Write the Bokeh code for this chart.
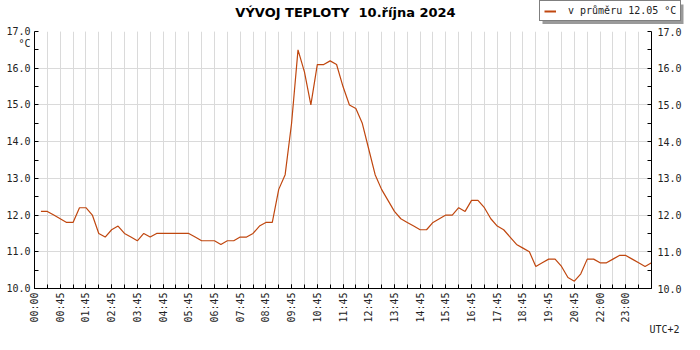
import math
from bokeh.plotting import figure
from bokeh.layouts import column
from bokeh.models import (Range1d, FixedTicker, LinearAxis, Label, Legend,
                          LegendItem, PrintfTickFormatter, Title)
from bokeh.embed import file_html
from bokeh.resources import INLINE

# ---------------- data ----------------
TITLE = "VÝVOJ TEPLOTY  10.října 2024"
MEAN_TEMP = "12.05"
UNIT = "°C"
TIMEZONE = "UTC+2"
# temperature every 15 minutes, from 00:15 to 24:00
temps = [
    12.1, 12.1, 12.0, 11.9, 11.8, 11.8, 12.2, 12.2,   # 00:15 - 02:00
    12.0, 11.5, 11.4, 11.6, 11.7, 11.5, 11.4, 11.3,   # 02:15 - 04:00
    11.5, 11.4, 11.5, 11.5, 11.5, 11.5, 11.5, 11.5,   # 04:15 - 06:00
    11.4, 11.3, 11.3, 11.3, 11.2, 11.3, 11.3, 11.4,   # 06:15 - 08:00
    11.4, 11.5, 11.7, 11.8, 11.8, 12.7, 13.1, 14.5,   # 08:15 - 10:00
    16.5, 15.9, 15.0, 16.1, 16.1, 16.2, 16.1, 15.5,   # 10:15 - 12:00
    15.0, 14.9, 14.5, 13.8, 13.1, 12.7, 12.4, 12.1,   # 12:15 - 14:00
    11.9, 11.8, 11.7, 11.6, 11.6, 11.8, 11.9, 12.0,   # 14:15 - 16:00
    12.0, 12.2, 12.1, 12.4, 12.4, 12.2, 11.9, 11.7,   # 16:15 - 18:00
    11.6, 11.4, 11.2, 11.1, 11.0, 10.6, 10.7, 10.8,   # 18:15 - 20:00
    10.8, 10.6, 10.3, 10.2, 10.4, 10.8, 10.8, 10.7,   # 20:15 - 22:00
    10.7, 10.8, 10.9, 10.9, 10.8, 10.7, 10.6, 10.7,   # 22:15 - 24:00
]
minutes = [15 * (i + 1) for i in range(len(temps))]

tick_labels = ["00:00", "00:45", "01:45", "02:45", "03:45", "04:45",
               "05:45", "06:45", "07:45", "08:45", "09:45", "10:45",
               "11:45", "12:45", "13:45", "14:45", "15:45", "16:45",
               "17:45", "18:45", "19:45", "20:45", "22:00", "23:00"]
y_ticks = [10, 11, 12, 13, 14, 15, 16, 17]
UNIT_POS = 16.67          # where the unit sits on the left scale

LINE_COLOR = "#c0470f"
GRID_COLOR = "#dadada"
TEXT_COLOR = "#222222"
SHADOW_COLOR = "#9a9a9a"
MONO = "DejaVu Sans Mono"

W = 684
TOP_H = 24
MAIN_H = 310
# legend box placement in the header strip (pixels, origin bottom-left)
LEG_X, LEG_Y, LEG_W, LEG_H, SHADOW = 539, 3, 141, 20, 3

hour_ticks = [60 * h for h in range(len(tick_labels))]
half_ticks = [30 * k for k in range(49)]
y_half = [y_ticks[0] + 0.5 * k for k in range(2 * (len(y_ticks) - 1) + 1)]

# ---------------- header strip: title + legend ----------------
top = figure(frame_width=W, frame_height=TOP_H, x_range=Range1d(0, W),
             y_range=Range1d(0, TOP_H), output_backend="svg",
             toolbar_location=None, x_axis_type=None, y_axis_type=None,
             min_border=0)
if "frame_align" in top.properties():
    top.frame_align = False
top.outline_line_color = None
top.background_fill_color = "white"
top.border_fill_color = "white"

top.add_layout(Label(x=345, y=12, text=TITLE.replace("  ", " \u00a0"),
                     text_font="DejaVu Sans",
                     text_font_style="bold", text_font_size="13px",
                     text_align="center", text_baseline="middle",
                     text_color="black"))

# legend shadow
top.quad(left=[LEG_X + SHADOW], right=[LEG_X + SHADOW + LEG_W],
         bottom=[LEG_Y - SHADOW], top=[LEG_Y - SHADOW + LEG_H],
         fill_color=SHADOW_COLOR, line_color=None)
# a line renderer that only serves the legend swatch (nothing is drawn)
legend_line = top.line(x=[float("nan")], y=[float("nan")],
                       line_color=LINE_COLOR, line_width=2)
legend = Legend(items=[LegendItem(label="v průměru " + MEAN_TEMP + " " + UNIT,
                                  renderers=[legend_line])],
                location=(LEG_X, LEG_Y), padding=4, margin=0,
                glyph_width=12, glyph_height=10, label_height=10,
                label_standoff=12, label_text_font=MONO,
                label_text_font_size="10px", label_text_color=TEXT_COLOR,
                border_line_color="black", border_line_width=1,
                background_fill_color="white", background_fill_alpha=1.0)
top.add_layout(legend)

# ---------------- main chart ----------------
p = figure(width=W, height=MAIN_H, x_range=Range1d(0, 1440),
           y_range=Range1d(y_ticks[0], y_ticks[-1]), output_backend="svg",
           toolbar_location=None, min_border_left=34, min_border_right=32,
           min_border_top=7, min_border_bottom=4)
if "frame_align" in p.properties():
    p.frame_align = False
p.outline_line_color = None
p.background_fill_color = "white"
p.border_fill_color = "white"

p.line(minutes, temps, line_color=LINE_COLOR, line_width=1.2)

# x axis
xt = FixedTicker(ticks=hour_ticks, minor_ticks=half_ticks)
xa = p.xaxis[0]
xa.ticker = xt
xa.major_label_overrides = {t: lab for t, lab in zip(hour_ticks, tick_labels)}
xa.major_label_orientation = math.pi / 2
xa.major_tick_in = 4
xa.major_tick_out = 0
xa.minor_tick_in = 4
xa.minor_tick_out = 0
xa.major_label_standoff = 4

p.xgrid.ticker = xt
p.xgrid.grid_line_color = GRID_COLOR
p.xgrid.minor_grid_line_color = GRID_COLOR

# left axis (with the unit under the top value)
ya = p.yaxis[0]
ya.ticker = FixedTicker(ticks=y_ticks + [UNIT_POS], minor_ticks=y_half)
overrides = {v: "%.1f" % v for v in y_ticks}
overrides[UNIT_POS] = UNIT
ya.major_label_overrides = overrides
ya.major_tick_in = 0
ya.major_tick_out = 0
ya.minor_tick_in = 4
ya.minor_tick_out = 0
ya.major_label_standoff = 4

# right axis
ra = LinearAxis(ticker=FixedTicker(ticks=y_ticks, minor_ticks=y_half),
                formatter=PrintfTickFormatter(format="%.1f"))
p.add_layout(ra, "right")
ra.major_tick_in = 0
ra.major_tick_out = 0
ra.minor_tick_in = 4
ra.minor_tick_out = 0
ra.major_label_standoff = 6

for ax in (xa, ya, ra):
    ax.major_label_text_font = MONO
    ax.major_label_text_font_size = "10px"
    ax.major_label_text_color = TEXT_COLOR
    ax.axis_line_color = "black"
    ax.major_tick_line_color = "black"
    ax.minor_tick_line_color = "black"

p.ygrid.ticker = FixedTicker(ticks=y_ticks)
p.ygrid.grid_line_color = GRID_COLOR
p.ygrid.minor_grid_line_color = None

# time zone note at bottom right
p.add_layout(Title(text=TIMEZONE, align="right", offset=-28, standoff=-4,
                   vertical_align="top",
                   text_font=MONO, text_font_size="10px",
                   text_font_style="normal", text_color=TEXT_COLOR), "below")

layout = column(top, p, spacing=0)
open("out.html", "w").write(file_html(layout, INLINE))
